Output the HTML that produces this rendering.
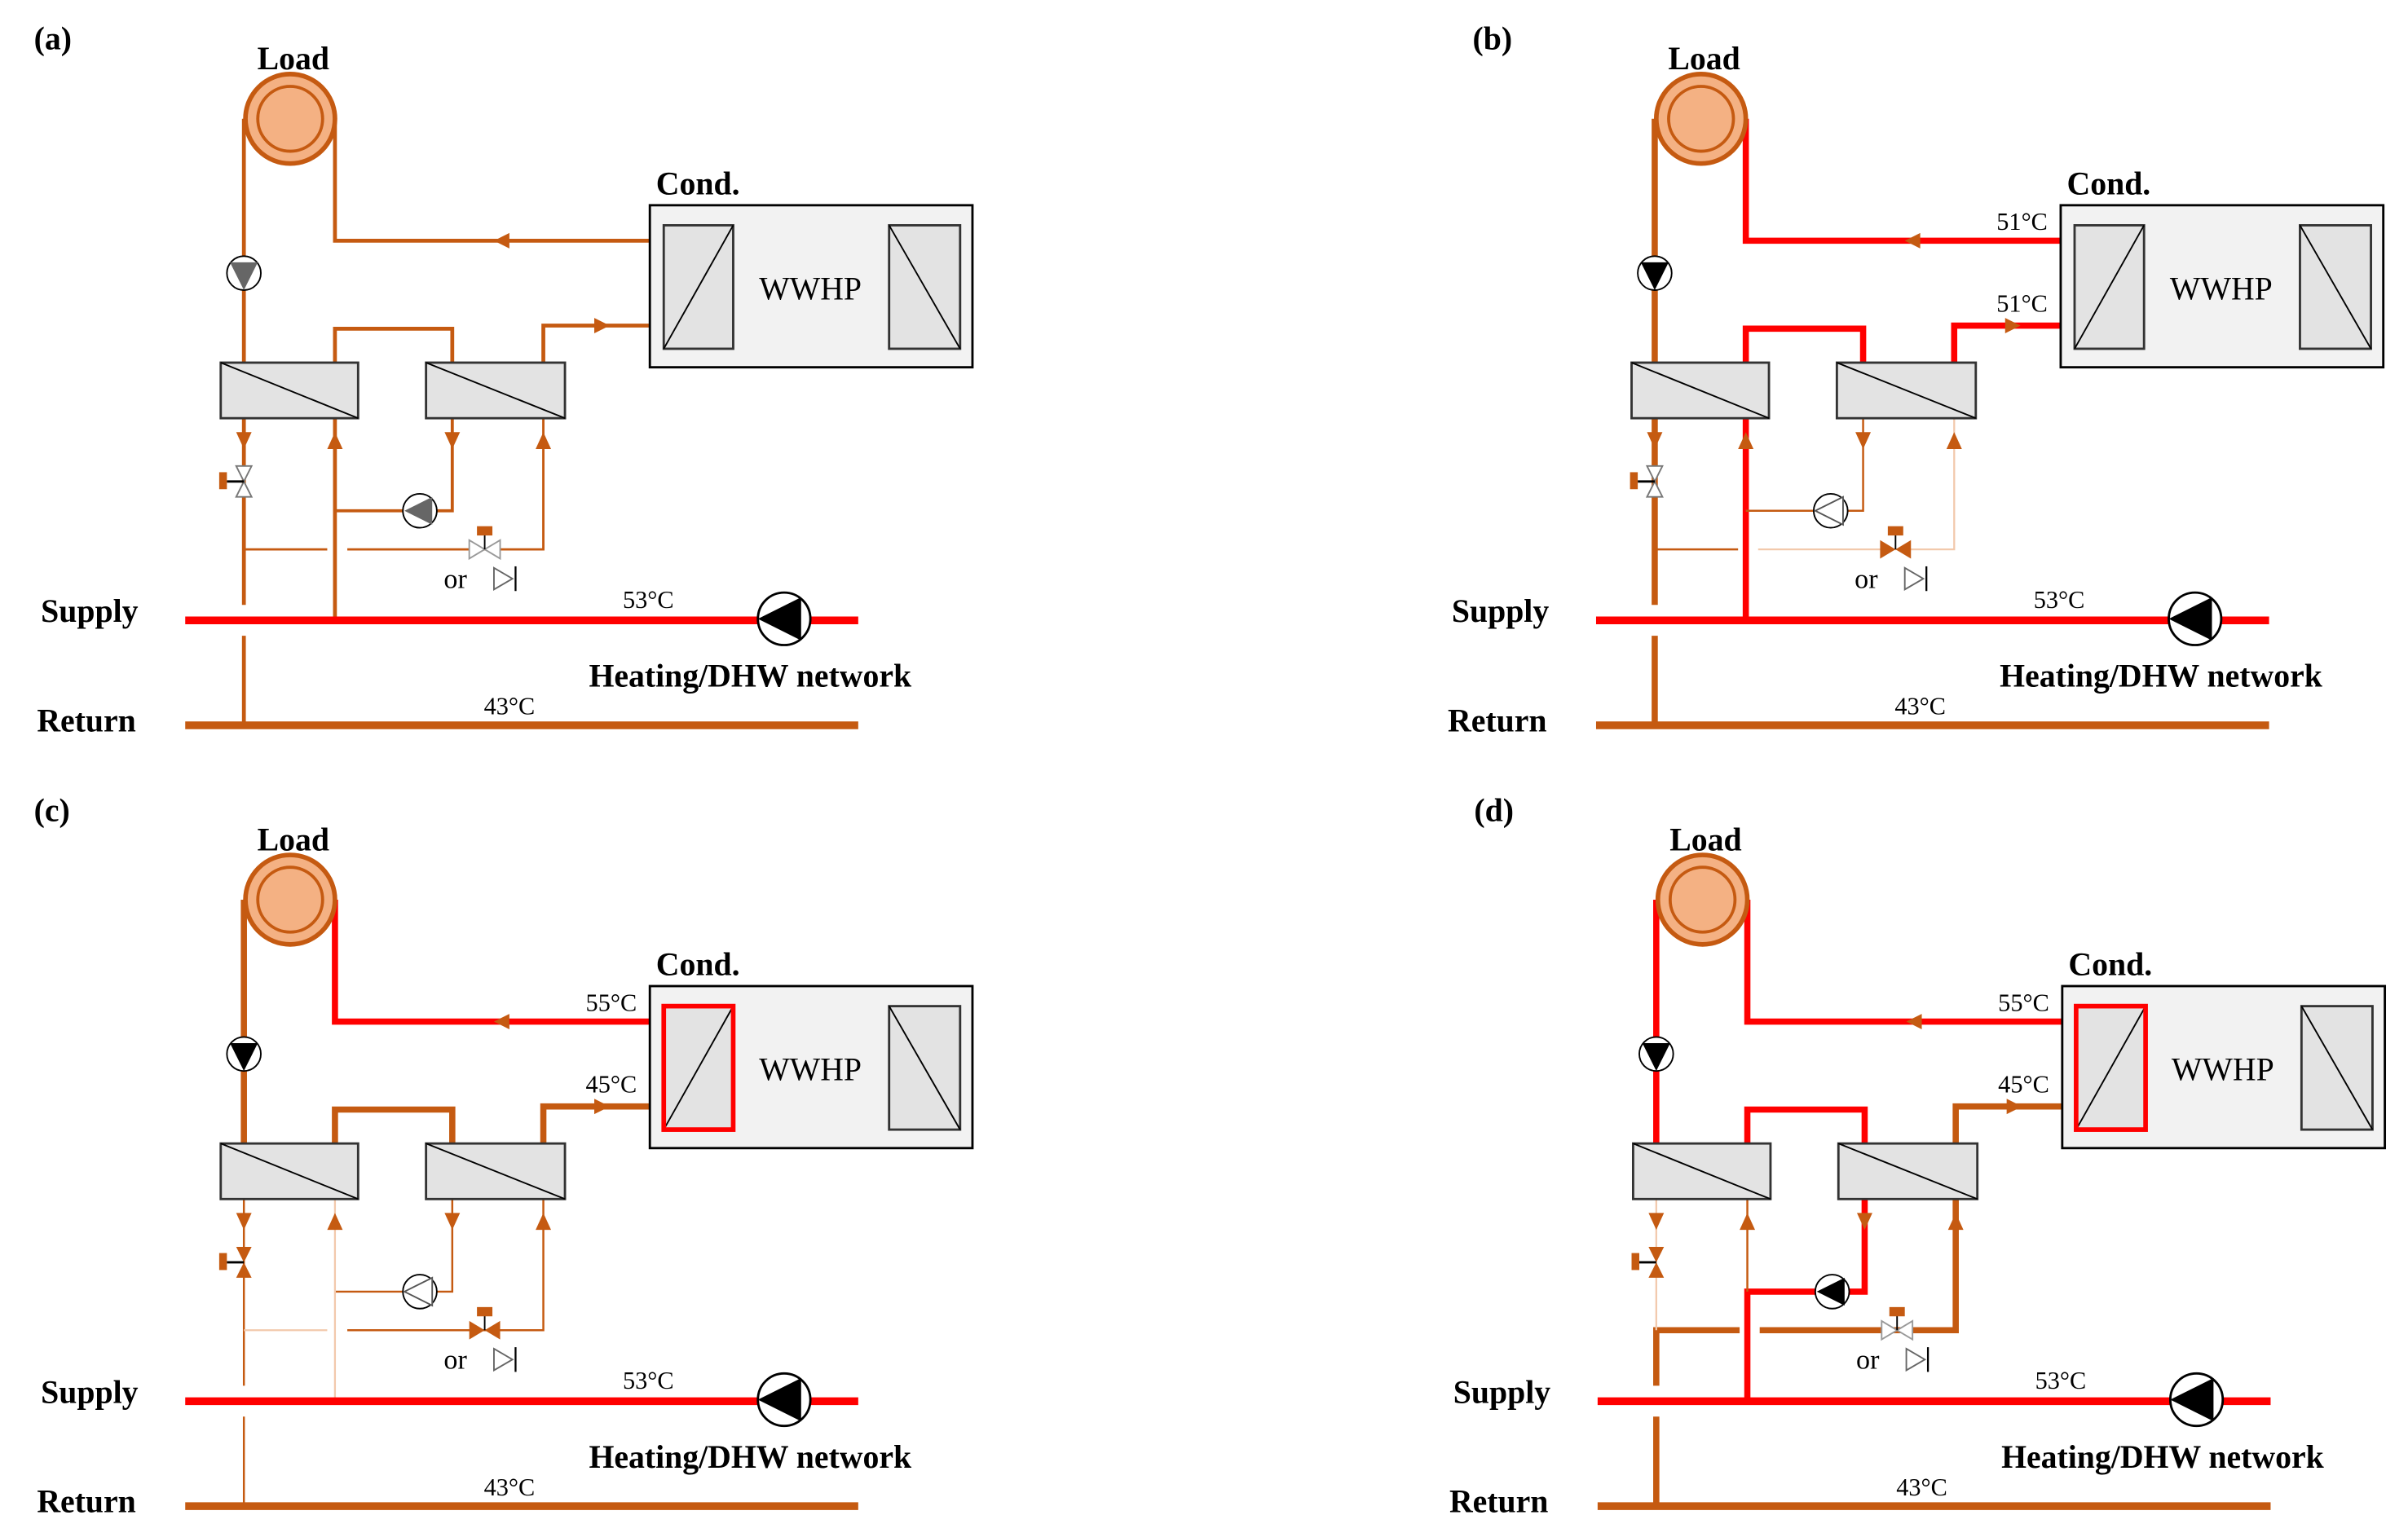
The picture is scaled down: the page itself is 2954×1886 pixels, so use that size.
<!DOCTYPE html>
<html><head><meta charset="utf-8"><style>
html,body{margin:0;padding:0;background:#fff;}
svg{display:block;}
text{font-family:"Liberation Serif",serif;fill:#000;}
.b{font-weight:bold;font-size:21px;}
.t{font-size:16px;}
</style></head><body>
<svg width="2954" height="1886" viewBox="0 0 1560 996" preserveAspectRatio="none" xmlns="http://www.w3.org/2000/svg">
<defs>
<g id="base">
  <circle cx="188" cy="77" r="29" fill="#F4B183" stroke="#C55A11" stroke-width="3"/>
  <circle cx="188" cy="77" r="21" fill="none" stroke="#C55A11" stroke-width="2"/>
  <rect x="421" y="133" width="209" height="105" fill="#F2F2F2" stroke="#000" stroke-width="1.5"/>
  <rect x="430" y="146" width="45" height="80" fill="#E3E3E3" stroke="#333" stroke-width="1.5"/>
  <line x1="430" y1="226" x2="475" y2="146" stroke="#000" stroke-width="1"/>
  <rect x="576" y="146" width="46" height="80" fill="#E3E3E3" stroke="#333" stroke-width="1.5"/>
  <line x1="576" y1="146" x2="622" y2="226" stroke="#000" stroke-width="1"/>
  <rect x="143" y="235" width="89" height="36" fill="#E3E3E3" stroke="#333" stroke-width="1.5"/>
  <line x1="143" y1="235" x2="232" y2="271" stroke="#000" stroke-width="1"/>
  <rect x="276" y="235" width="90" height="36" fill="#E3E3E3" stroke="#333" stroke-width="1.5"/>
  <line x1="276" y1="235" x2="366" y2="271" stroke="#000" stroke-width="1"/>
  <line x1="120" y1="402" x2="556" y2="402" stroke="#FF0000" stroke-width="5"/>
  <line x1="120" y1="470" x2="556" y2="470" stroke="#C55A11" stroke-width="5"/>
  <circle cx="508" cy="401" r="17" fill="#fff" stroke="#000" stroke-width="1.5"/>
  <polygon points="491,401 519,387 519,415" fill="#000"/>
  <polygon points="320,368 332,375 320,382" fill="#fff" stroke="#666" stroke-width="1"/>
  <line x1="334" y1="367" x2="334" y2="383" stroke="#000" stroke-width="1.2"/>
  <circle cx="158" cy="177" r="11" fill="#fff" stroke="#000" stroke-width="1"/>
  <polygon points="320,156 330,151 330,161" fill="#C55A11"/>
  <polygon points="395,211 385,206 385,216" fill="#C55A11"/>
  <polygon points="153,280 163,280 158,291" fill="#C55A11"/>
  <polygon points="288,280 298,280 293,291" fill="#C55A11"/>
  <polygon points="212,291 222,291 217,280" fill="#C55A11"/>
  <polygon points="347,291 357,291 352,280" fill="#C55A11"/>
  <text x="190" y="45" text-anchor="middle" class="b">Load</text>
  <text x="425" y="126" class="b">Cond.</text>
  <text x="525" y="194" text-anchor="middle" font-size="21">WWHP</text>
  <text x="58" y="403" text-anchor="middle" class="b" font-size="22">Supply</text>
  <text x="56" y="474" text-anchor="middle" class="b" font-size="22">Return</text>
  <text x="420" y="394" text-anchor="middle" class="t">53°C</text>
  <text x="486" y="445" text-anchor="middle" class="b" font-size="23">Heating/DHW network</text>
  <text x="330" y="463" text-anchor="middle" class="t">43°C</text>
  <text x="295" y="381" text-anchor="middle" font-size="18">or</text>
</g>
<g id="valveO">
  <polygon points="153,302 163,302 158,312" fill="#fff" stroke="#777" stroke-width="1"/>
  <polygon points="153,322 163,322 158,312" fill="#fff" stroke="#777" stroke-width="1"/>
  <line x1="147" y1="312" x2="158" y2="312" stroke="#000" stroke-width="1.5"/>
  <rect x="142" y="306" width="5" height="11" fill="#C55A11"/>
</g>
<g id="valveF">
  <polygon points="153,302 163,302 158,312" fill="#C55A11"/>
  <polygon points="153,322 163,322 158,312" fill="#C55A11"/>
  <line x1="147" y1="312" x2="158" y2="312" stroke="#000" stroke-width="1.5"/>
  <rect x="142" y="306" width="5" height="11" fill="#C55A11"/>
</g>
<g id="v3O">
  <polygon points="304,350 304,362 314,356" fill="#fff" stroke="#999" stroke-width="1"/>
  <polygon points="324,350 324,362 314,356" fill="#fff" stroke="#999" stroke-width="1"/>
  <line x1="314" y1="346" x2="314" y2="356" stroke="#000" stroke-width="1"/>
  <rect x="309" y="341" width="10" height="6" fill="#C55A11"/>
</g>
<g id="v3F">
  <polygon points="304,350 304,362 314,356" fill="#C55A11"/>
  <polygon points="324,350 324,362 314,356" fill="#C55A11"/>
  <line x1="314" y1="346" x2="314" y2="356" stroke="#000" stroke-width="1"/>
  <rect x="309" y="341" width="10" height="6" fill="#C55A11"/>
</g>
</defs>

<!-- (a) -->
<g>
  <g fill="none" stroke="#C55A11" stroke-width="2.5">
    <path d="M158 77V392M158 412V470"/>
    <path d="M217 77V156H421"/>
    <path d="M217 235V213H293V235"/>
    <path d="M352 235V211H421"/>
    <path d="M217 271V402"/>
    <path d="M293 271V331H217" stroke-width="2"/>
    <path d="M352 271V356H225M158 356H212" stroke-width="1.5"/>
  </g>
  <use href="#base"/>
  <polygon points="149,170 167,170 158,188" fill="#666"/>
  <circle cx="272" cy="331" r="11" fill="#fff" stroke="#000" stroke-width="1"/>
  <polygon points="262,331 280,322 280,340" fill="#666"/>
  <use href="#valveO"/><use href="#v3O"/>
  <text x="22" y="32" class="b" font-size="23">(a)</text>
</g>

<!-- (b) -->
<g transform="translate(914,0)">
  <g fill="none" stroke-width="4">
    <path d="M158 77V392M158 412V470" stroke="#C55A11"/>
    <path d="M217 77V156H421M217 235V213H293V235M352 235V211H421M217 271V402" stroke="#FF0000"/>
    <path d="M293 271V331H217M158 356H212" stroke="#C55A11" stroke-width="1.3"/>
    <path d="M352 271V356H225" stroke="#F2C9AC" stroke-width="1.2"/>
  </g>
  <use href="#base"/>
  <polygon points="149,170 167,170 158,188" fill="#000"/>
  <circle cx="272" cy="331" r="11" fill="#fff" stroke="#000" stroke-width="1"/>
  <polygon points="262,331 280,322 280,340" fill="#fff" stroke="#555" stroke-width="1"/>
  <use href="#valveO"/><use href="#v3F"/>
  <text x="396" y="149" text-anchor="middle" class="t">51°C</text>
  <text x="396" y="202" text-anchor="middle" class="t">51°C</text>
  <text x="40" y="32" class="b" font-size="23">(b)</text>
</g>

<!-- (c) -->
<g transform="translate(0,506)">
  <g fill="none" stroke-width="4">
    <path d="M158 77V235M217 235V213H293V235M352 235V211H421" stroke="#C55A11"/>
    <path d="M217 77V156H430" stroke="#FF0000"/>
    <path d="M158 271V392M158 412V470M293 271V331H217M352 271V356H225" stroke="#C55A11" stroke-width="1.3"/>
    <path d="M217 271V402M158 356H212" stroke="#F2C9AC" stroke-width="1.2"/>
  </g>
  <use href="#base"/>
  <rect x="430" y="146" width="45" height="80" fill="none" stroke="#FF0000" stroke-width="3"/>
  <polygon points="149,170 167,170 158,188" fill="#000"/>
  <circle cx="272" cy="331" r="11" fill="#fff" stroke="#000" stroke-width="1"/>
  <polygon points="262,331 280,322 280,340" fill="#fff" stroke="#555" stroke-width="1"/>
  <use href="#valveF"/><use href="#v3F"/>
  <text x="396" y="149" text-anchor="middle" class="t">55°C</text>
  <text x="396" y="202" text-anchor="middle" class="t">45°C</text>
  <text x="22" y="26" class="b" font-size="23">(c)</text>
</g>

<!-- (d) -->
<g transform="translate(915,506)">
  <g fill="none" stroke-width="4">
    <path d="M352 235V211H421M352 271V356H225M212 356H158V392M158 412V470" stroke="#C55A11"/>
    <path d="M158 77V235M217 77V156H430M217 235V213H293V235M293 271V331H217V402" stroke="#FF0000"/>
    <path d="M217 271V331" stroke="#C55A11" stroke-width="1.3"/>
    <path d="M158 271V356" stroke="#F2C9AC" stroke-width="1.2"/>
  </g>
  <use href="#base"/>
  <rect x="430" y="146" width="45" height="80" fill="none" stroke="#FF0000" stroke-width="3"/>
  <polygon points="149,170 167,170 158,188" fill="#000"/>
  <circle cx="272" cy="331" r="11" fill="#fff" stroke="#000" stroke-width="1"/>
  <polygon points="262,331 280,322 280,340" fill="#000"/>
  <use href="#valveF"/><use href="#v3O"/>
  <text x="396" y="149" text-anchor="middle" class="t">55°C</text>
  <text x="396" y="202" text-anchor="middle" class="t">45°C</text>
  <text x="40" y="26" class="b" font-size="23">(d)</text>
</g>
</svg>
</body></html>
